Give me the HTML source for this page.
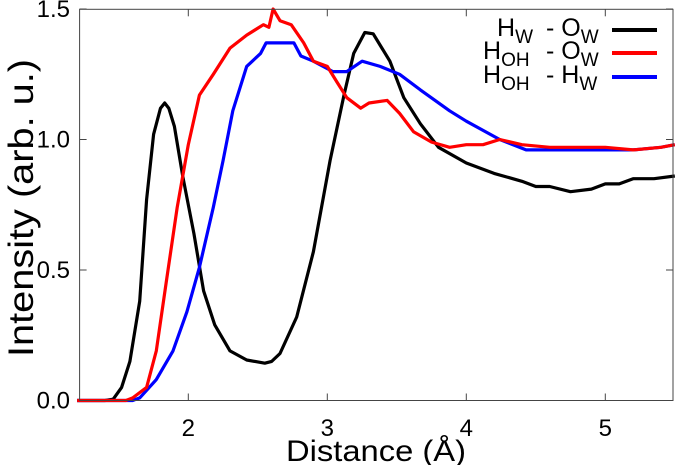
<!DOCTYPE html>
<html><head><meta charset="utf-8"><style>
body{margin:0;background:#fff;}
svg{display:block;font-family:"Liberation Sans",sans-serif;}
</style></head><body>
<svg id="chart" width="675" height="465" viewBox="0 0 675 465"></svg>
<script>
const xTicks=[2,3,4,5];
const yTicks=[0.0,0.5,1.0,1.5];
const yTickLabels=["0.0","0.5","1.0","1.5"];
const blackX=[1.2,1.4,1.46,1.52,1.58,1.65,1.70,1.75,1.8,1.83,1.86,1.90,1.96,2.04,2.11,2.19,2.30,2.42,2.55,2.60,2.66,2.78,2.90,3.02,3.12,3.19,3.27,3.33,3.45,3.55,3.67,3.8,4.0,4.2,4.4,4.5,4.6,4.75,4.9,5.0,5.1,5.2,5.35,5.5];
const blackY=[0,0,0.005,0.05,0.15,0.38,0.77,1.02,1.12,1.14,1.12,1.05,0.86,0.64,0.42,0.29,0.19,0.155,0.143,0.15,0.18,0.32,0.57,0.92,1.17,1.33,1.41,1.405,1.30,1.16,1.06,0.97,0.91,0.87,0.84,0.82,0.82,0.80,0.81,0.83,0.83,0.85,0.85,0.86];
const redX=[1.2,1.55,1.6,1.70,1.77,1.84,1.92,2.00,2.08,2.18,2.30,2.42,2.54,2.58,2.61,2.66,2.74,2.83,2.90,3.0,3.07,3.14,3.24,3.30,3.43,3.52,3.62,3.75,3.88,4.0,4.12,4.24,4.4,4.6,4.8,5.0,5.2,5.4,5.5];
const redY=[0,0,0.01,0.05,0.19,0.45,0.74,0.98,1.17,1.25,1.35,1.40,1.44,1.43,1.50,1.455,1.44,1.37,1.30,1.28,1.22,1.16,1.12,1.14,1.15,1.10,1.03,0.99,0.97,0.98,0.98,1.00,0.98,0.97,0.97,0.97,0.96,0.97,0.98];
const blueX=[1.2,1.6,1.65,1.77,1.89,1.99,2.08,2.18,2.25,2.32,2.42,2.52,2.56,2.66,2.76,2.81,2.90,3.04,3.14,3.25,3.38,3.52,3.67,3.88,4.0,4.24,4.43,4.6,4.8,5.0,5.2,5.4,5.5];
const blueY=[0,0,0.01,0.08,0.19,0.34,0.51,0.74,0.92,1.11,1.28,1.33,1.37,1.37,1.37,1.32,1.30,1.26,1.26,1.30,1.28,1.25,1.19,1.11,1.07,1.00,0.96,0.96,0.96,0.96,0.96,0.97,0.98];

const NS="http://www.w3.org/2000/svg";
const svg=document.getElementById('chart');
const L=79.6,R=673,T=9.3,B=400.5;
const xs=v=>188.3+139*(v-2);
const ys=v=>B-261*v;
function mk(tag,attrs,parent){const e=document.createElementNS(NS,tag);for(const k in attrs)e.setAttribute(k,attrs[k]);(parent||svg).appendChild(e);return e;}

function series(xa,ya,color,name){
  const p=mk('polyline',{points:xa.map((x,i)=>xs(x).toFixed(1)+','+ys(ya[i]).toFixed(1)).join(' '),fill:'none',stroke:color,'stroke-width':3.2,'stroke-linejoin':'round'});
  
  
}
series(blackX,blackY,'#000','series-hw-ow');
series(blueX,blueY,'#0000ff','series-hoh-hw');
series(redX,redY,'#ff0000','series-hoh-ow');

const fr=mk('rect',{x:L,y:T,width:R-L,height:B-T,fill:'none',stroke:'#444','stroke-width':1});


xTicks.forEach(v=>{
  mk('line',{x1:xs(v),x2:xs(v),y1:B,y2:B-7,stroke:'#444'});
  mk('line',{x1:xs(v),x2:xs(v),y1:T,y2:T+7,stroke:'#444'});
  const t=mk('text',{x:xs(v),y:436,'text-anchor':'middle','font-size':24,fill:'#000'});
  t.textContent=v;
  
  
});
yTicks.forEach((v,i)=>{
  mk('line',{x1:L,x2:L+7,y1:ys(v),y2:ys(v),stroke:'#444'});
  mk('line',{x1:R,x2:R-7,y1:ys(v),y2:ys(v),stroke:'#444'});
  const t=mk('text',{x:70,y:ys(v)+8,'text-anchor':'end','font-size':24,fill:'#000'});
  t.textContent=yTickLabels[i];
  
  
});
const xt=mk('text',{x:376,y:461,'text-anchor':'middle','font-size':30,fill:'#000',textLength:180,lengthAdjust:'spacingAndGlyphs'});
xt.textContent='Distance (Å)';


const yt=mk('text',{x:0,y:0,'text-anchor':'middle','font-size':35,fill:'#000',textLength:298,lengthAdjust:'spacingAndGlyphs',transform:'translate(33,208) rotate(-90)'});
yt.textContent='Intensity (arb. u.)';



const leg=[['H','W','O','W','#000',30,497],['H','OH','O','W','#ff0000',53,483],['H','OH','H','W','#0000ff',77,483]];
leg.forEach(e=>{
  const g=mk('g',{});
  
  
  const t1=mk('text',{x:e[6],y:e[5]+6,'font-size':25,fill:'#000'},g);
  t1.innerHTML=e[0]+'<tspan dy="7" font-size="19">'+e[1]+'</tspan>';
  const t2=mk('text',{x:546,y:e[5]+6,'font-size':25,fill:'#000'},g);
  t2.innerHTML='- '+e[2]+'<tspan dy="7" font-size="19">'+e[3]+'</tspan>';
  mk('line',{x1:612,x2:657,y1:e[5],y2:e[5],stroke:e[4],'stroke-width':4},g);
});
</script>
</body></html>
